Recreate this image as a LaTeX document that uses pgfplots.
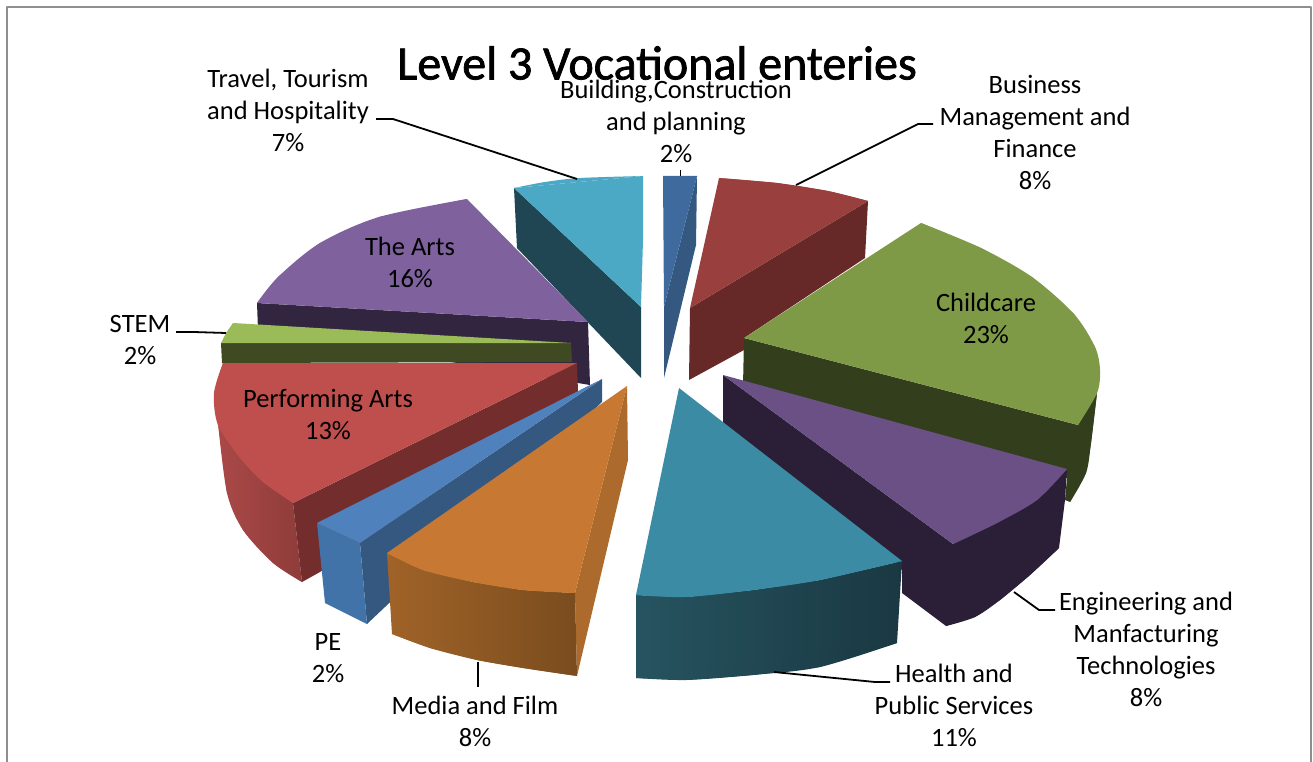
\documentclass[border=0pt]{standalone}
\usepackage{pgfplots}
\pgfplotsset{compat=1.18}
\usepackage{fontspec}
\setmainfont{Carlito}
\newfontfamily\titlefont[FakeBold=1.5]{Carlito}
\definecolor{frame}{HTML}{8F8F8F}
\definecolor{trT}{HTML}{4BA9C5}\definecolor{trS}{HTML}{1F4652}
\definecolor{arT}{HTML}{7F619E}\definecolor{arS}{HTML}{322540}
\definecolor{stT}{HTML}{9BBB59}\definecolor{stS}{HTML}{3F4A22}
\definecolor{peT}{HTML}{BE4F4C}\definecolor{peC}{HTML}{732D2C}\definecolor{peA}{HTML}{AA4947}\definecolor{peB}{HTML}{8E3C3A}
\definecolor{pbT}{HTML}{4F81BD}\definecolor{pbA}{HTML}{4273A8}\definecolor{pbC}{HTML}{345880}
\definecolor{meT}{HTML}{C77933}\definecolor{meA}{HTML}{A06328}\definecolor{meB}{HTML}{7A4C1E}\definecolor{meR}{HTML}{AC6B2C}
\definecolor{heT}{HTML}{3B8BA4}\definecolor{heA}{HTML}{265460}\definecolor{heB}{HTML}{1A3842}
\definecolor{enT}{HTML}{6A5085}\definecolor{enS}{HTML}{2B1F38}
\definecolor{chT}{HTML}{7F9A47}\definecolor{chS}{HTML}{333E1D}
\definecolor{buT}{HTML}{993F3D}\definecolor{buS}{HTML}{662927}
\definecolor{boT}{HTML}{3F6A9E}\definecolor{boS}{HTML}{345880}
\tikzset{lab/.style={align=center,inner sep=0pt,font=\fontsize{26.5}{32}\selectfont,text=black}}
\begin{document}
\begin{tikzpicture}
\begin{axis}[
  scale only axis,width=1313pt,height=762pt,
  xmin=0,xmax=1313,ymin=0,ymax=762,y dir=reverse,
  axis lines=none,ticks=none,clip=true,
  every axis plot/.append style={mark=none,line join=round},
]
\addplot[draw=none] coordinates {(0,0)(1313,762)};
% frame
\addplot[draw=frame,line width=1.5pt] coordinates {(7,762)(7,7)(1311,7)(1311,762)};
% Travel
\addplot[fill=trS,draw=none] coordinates {(514,188)(641,307)(641,378)(517,248)};
\addplot[fill=trT,draw=none] coordinates {(514,188)(643,176)(643,240)(641,307)};
\addplot[smooth,fill=trT,draw=none] coordinates {(514,188)(545,182)(580,178)(643,176)};
% Building
\addplot[fill=boS,draw=none] coordinates {(697,176)(696,245)(664,378)(664,307)};
\addplot[fill=boT,draw=none] coordinates {(663,176)(697,176)(664,307)};
% Business
\addplot[fill=buS,draw=none] coordinates {(690,308)(868,201)(865,258)(744,338)(744,350)(689,380)};
\addplot[fill=buT,draw=none] coordinates {(719,178)(777,183)(828,191)(868,201)(690,308)};
\addplot[smooth,fill=buT,draw=none] coordinates {(719,178)(777,183)(828,191)(868,201)};
% Childcare
\addplot[fill=chS,draw=none] coordinates {(744,338)(1078,425)(1097,393)(1091,443)(1086,473)(1070,502)(1065,500)(1067,478)(743,386)};
\addplot[smooth,fill=chS,draw=none] coordinates {(1097,393)(1091,443)(1086,473)(1070,502)};
\addplot[fill=chT,draw=none] coordinates {(921,223)(981,248)(1032,277)(1074,314)(1095,347)(1100,370)(1097,393)(1078,425)(744,338)};
\addplot[smooth,fill=chT,draw=none] coordinates {(921,223)(981,248)(1032,277)(1074,314)(1095,347)(1100,370)(1097,393)(1078,425)};
% The Arts
\addplot[fill=arS,draw=none] coordinates {(257,303)(588,322)(590,385)(258,330)};
\addplot[fill=arT,draw=none] coordinates {(467,199)(379,217)(320,243)(278,277)(257,303)(588,322)};
\addplot[smooth,fill=arT,draw=none] coordinates {(467,199)(379,217)(320,243)(278,277)(257,303)};
% STEM
\addplot[fill=stS,draw=none] coordinates {(221,343)(571,343)(572,362)(222,363)};
\addplot[fill=stT,draw=none] coordinates {(233,323)(571,343)(221,343)(226,333)};
% Performing Arts
\addplot[left color=peA,right color=peB,draw=none] coordinates {(218,423)(293,503)(302,582)(273,563)(243,530)(227,493)};
\addplot[smooth,left color=peA,right color=peB,draw=none] coordinates {(218,423)(227,493)(243,530)(273,563)(302,582)};
\addplot[fill=peC,draw=none] coordinates {(293,503)(577,363)(578,392)(320,572)(302,582)};
\addplot[fill=peT,draw=none] coordinates {(223,363)(214,393)(218,425)(240,458)(263,482)(293,503)(577,363)};
\addplot[smooth,fill=peT,draw=none] coordinates {(223,363)(214,393)(218,425)(240,458)(263,482)(293,503)};
% PE
\addplot[fill=pbC,draw=none] coordinates {(360,543)(602,379)(602,402)(367,624)};
\addplot[fill=pbA,draw=none] coordinates {(317,523)(360,543)(367,624)(325,603)};
\addplot[fill=pbT,draw=none] coordinates {(602,379)(317,523)(360,543)};
% Media
\addplot[fill=meR,draw=none] coordinates {(627,386)(575,593)(577,676)(628,460)};
\addplot[left color=meA,right color=meB,draw=none] coordinates {(387,553)(423,570)(473,582)(523,590)(575,593)(577,676)(523,668)(477,660)(430,648)(392,634)};
\addplot[smooth,left color=meA,right color=meB,draw=none] coordinates {(392,634)(430,648)(477,660)(523,668)(577,676)};
\addplot[fill=meT,draw=none] coordinates {(627,386)(387,553)(423,570)(473,582)(523,590)(575,593)};
\addplot[smooth,fill=meT,draw=none] coordinates {(387,553)(423,570)(473,582)(523,590)(575,593)};
% Engineering
\addplot[fill=enS,draw=none] coordinates {(723,375)(723,430)(902,570)(902,593)(946,626)(975,617)(1000,600)(1030,575)(1059,548)(1065,500)(1067,469)(953,544)};
\addplot[smooth,fill=enS,draw=none] coordinates {(946,626)(975,617)(1000,600)(1030,575)(1059,548)};
\addplot[fill=enT,draw=none] coordinates {(723,375)(1067,469)(1037,500)(997,523)(953,544)};
\addplot[smooth,fill=enT,draw=none] coordinates {(1067,469)(1037,500)(997,523)(953,544)};
% Health
\addplot[left color=heA,right color=heB,draw=none] coordinates {(636,595)(686,597)(753,590)(820,580)(902,561)(897,643)(820,667)(753,675)(686,680)(636,678)};
\addplot[smooth,left color=heA,right color=heB,draw=none] coordinates {(636,678)(686,680)(753,675)(820,667)(897,643)};
\addplot[fill=heT,draw=none] coordinates {(679,388)(902,561)(820,580)(753,590)(686,597)(636,595)};
\addplot[smooth,fill=heT,draw=none] coordinates {(636,595)(686,597)(753,590)(820,580)(902,561)};
% leader lines
\addplot[draw=black,line width=1.8pt] coordinates {(376,119)(393,119)(577,179)};
\addplot[draw=black,line width=1.8pt] coordinates {(933,124)(918,124)(796,185)};
\addplot[draw=black,line width=1pt] coordinates {(680,170)(680,176)};
\addplot[draw=black,line width=1.8pt] coordinates {(176,332)(194,332)(226,333)};
\addplot[draw=black,line width=1.8pt] coordinates {(478,662)(478,687)};
\addplot[draw=black,line width=1.8pt] coordinates {(774,672)(875,682)(890,682)};
\addplot[draw=black,line width=1.8pt] coordinates {(1014,592)(1039,610)(1055,610)};
% text
\node[font=\titlefont\fontsize{48}{50}\selectfont,inner sep=0pt] at (axis cs:657,63) {Level 3 Vocational enteries};
\node[lab] at (axis cs:288,110) {Travel, Tourism\\and Hospitality\\7\%};
\node[lab] at (axis cs:676,121) {Building,Construction\\and planning\\2\%};
\node[lab] at (axis cs:1035,132) {Business\\Management and\\Finance\\8\%};
\node[lab] at (axis cs:410,262) {The Arts\\16\%};
\node[lab] at (axis cs:140,340) {STEM\\2\%};
\node[lab] at (axis cs:328,414) {Performing Arts\\13\%};
\node[lab] at (axis cs:986,318) {Childcare\\23\%};
\node[lab] at (axis cs:328,658) {PE\\2\%};
\node[lab] at (axis cs:475,721) {Media and Film\\8\%};
\node[lab] at (axis cs:954,705) {Health and\\Public Services\\11\%};
\node[lab] at (axis cs:1146,649) {Engineering and\\Manfacturing\\Technologies\\8\%};
\end{axis}
\end{tikzpicture}
\end{document}
